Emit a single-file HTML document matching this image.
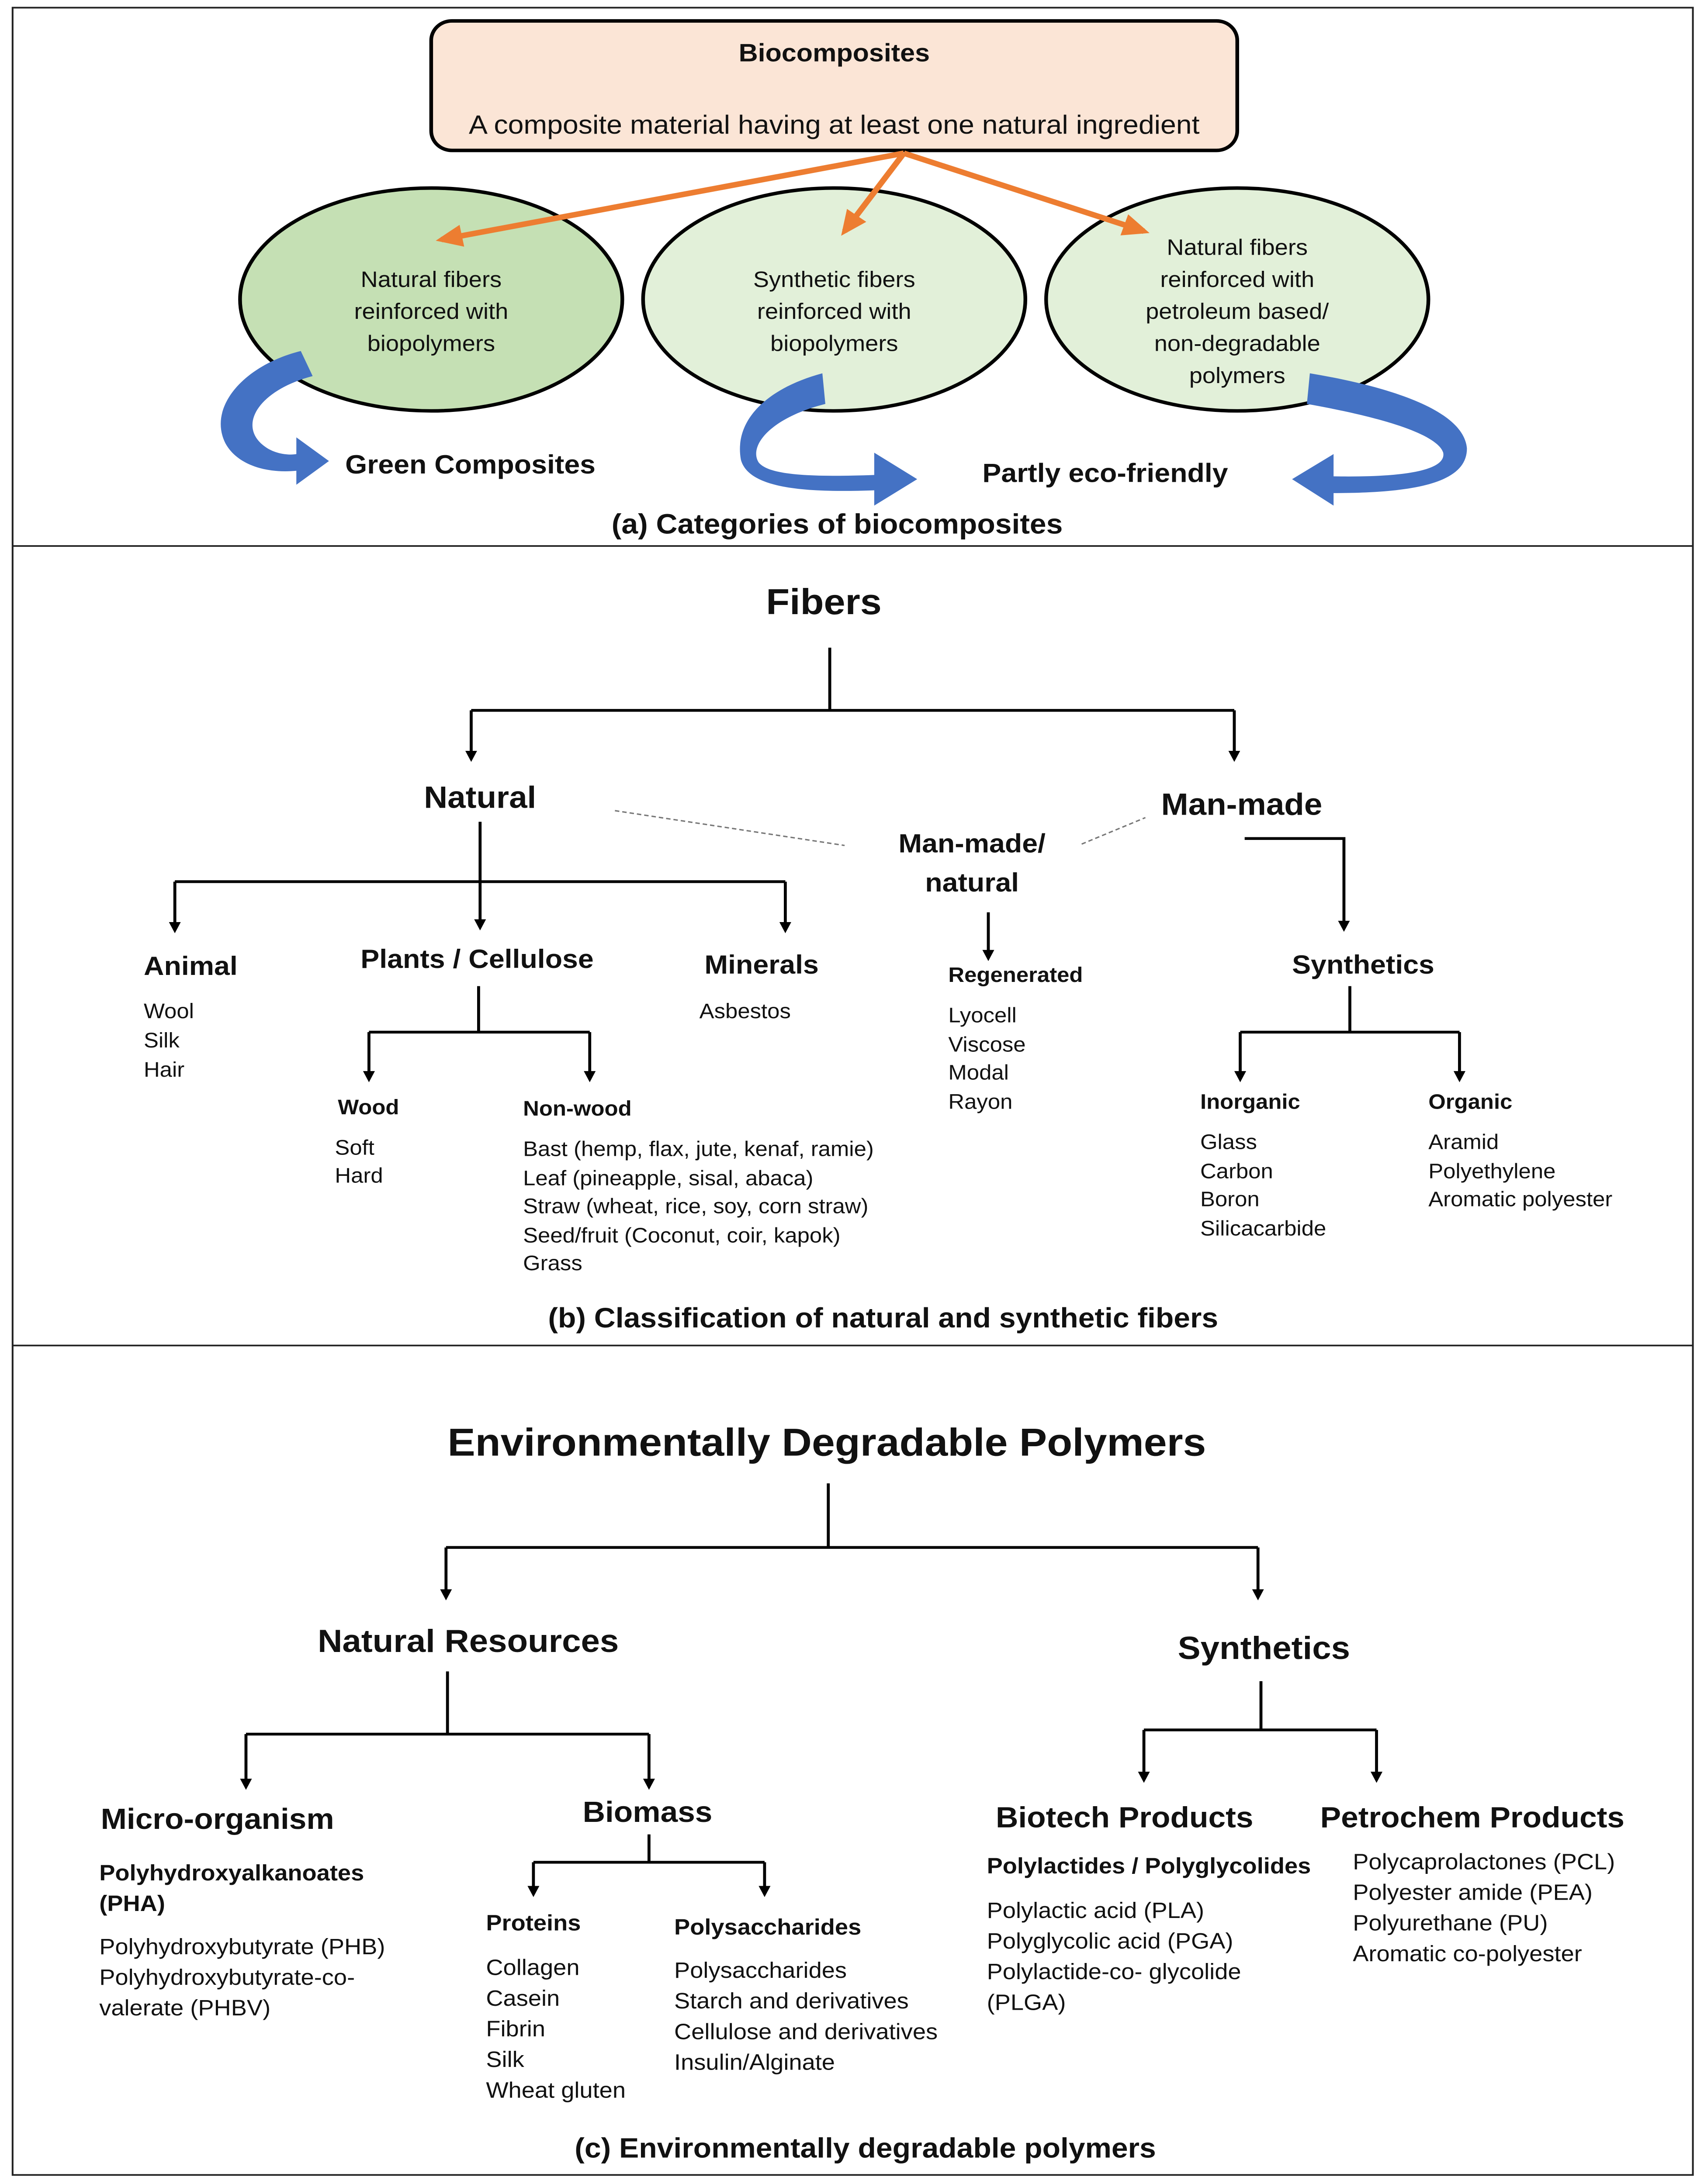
<!DOCTYPE html>
<html><head><meta charset="utf-8"><style>
html,body{margin:0;padding:0;background:#fff;width:100%;height:100%;overflow:hidden}
svg{display:block;width:100vw;height:100vh}
text{font-family:"Liberation Sans",sans-serif;fill:#111}
.b{font-weight:bold}
</style></head><body>
<svg viewBox="0 0 1150 1568" preserveAspectRatio="none" xmlns="http://www.w3.org/2000/svg">
<defs>
<marker id="ah" markerWidth="8" markerHeight="8" refX="6" refY="4" orient="auto" markerUnits="userSpaceOnUse"><path d="M0,0 L8,4 L0,8 Z" fill="#000"/></marker>
<marker id="oh" markerWidth="18" markerHeight="16" refX="14" refY="8" orient="auto" markerUnits="userSpaceOnUse"><path d="M0,0 L18,8 L0,16 Z" fill="#ed7d31"/></marker>
</defs>
<rect x="0" y="0" width="1150" height="1568" fill="#fff"/>
<rect x="8.5" y="5.5" width="1134" height="1556" fill="none" stroke="#222" stroke-width="1.2"/>
<line x1="8" y1="392" x2="1143" y2="392" stroke="#222" stroke-width="1.2"/>
<line x1="8" y1="966" x2="1143" y2="966" stroke="#222" stroke-width="1.2"/>

<rect x="291" y="15" width="544" height="93" rx="14" fill="#fbe5d6" stroke="#000" stroke-width="2.5"/>
<text x="563" y="44" font-size="18" class="b" text-anchor="middle">Biocomposites</text>
<text x="563" y="96" font-size="19" text-anchor="middle">A composite material having at least one natural ingredient</text>

<ellipse cx="291" cy="215" rx="129" ry="80" fill="#c5e0b4" stroke="#000" stroke-width="2.5"/>
<ellipse cx="563" cy="215" rx="129" ry="80" fill="#e2f0d9" stroke="#000" stroke-width="2.5"/>
<ellipse cx="835" cy="215" rx="129" ry="80" fill="#e2f0d9" stroke="#000" stroke-width="2.5"/>
<g font-size="16" text-anchor="middle">
<text x="291" y="206">Natural fibers</text><text x="291" y="229">reinforced with</text><text x="291" y="252">biopolymers</text>
<text x="563" y="206">Synthetic fibers</text><text x="563" y="229">reinforced with</text><text x="563" y="252">biopolymers</text>
<text x="835" y="183">Natural fibers</text><text x="835" y="206">reinforced with</text><text x="835" y="229">petroleum based/</text><text x="835" y="252">non-degradable</text><text x="835" y="275">polymers</text>
</g>
<g stroke="#ed7d31" stroke-width="4" fill="none">
<line x1="610" y1="110" x2="298" y2="172" marker-end="url(#oh)"/>
<line x1="610" y1="110" x2="570" y2="166" marker-end="url(#oh)"/>
<line x1="610" y1="110" x2="772" y2="166" marker-end="url(#oh)"/>
</g>
<g fill="#4472c4">
<path d="M203,252 L211,270 C175,280 160,305 178,320 C185,326 195,327 200,326 L200,314 L222,331 L200,348 L200,338 C180,340 160,334 152,318 C140,292 165,262 203,252 Z"/>
<path d="M555,268 L557,290 C520,300 505,320 512,332 C518,340 540,343 590,341 L590,325 L619,344 L590,363 L590,352 C540,354 505,350 500,330 C495,300 520,278 555,268 Z"/>
<path d="M884,268 L882,290 C935,300 970,312 974,325 C976,336 955,343 900,342 L900,326 L872,344 L900,363 L900,354 C960,354 990,345 990,322 C988,295 940,278 884,268 Z"/>
</g>
<text x="233" y="340" font-size="19" class="b">Green Composites</text>
<text x="663" y="346" font-size="19" class="b">Partly eco-friendly</text>
<text x="565" y="383" font-size="20" class="b" text-anchor="middle">(a) Categories of biocomposites</text>

<text x="556" y="441" font-size="26" class="b" text-anchor="middle">Fibers</text>
<g stroke="#000" stroke-width="2" fill="none">
<line x1="560" y1="465" x2="560" y2="510"/>
<line x1="318" y1="510" x2="833" y2="510"/>
<line x1="318" y1="510" x2="318" y2="545" marker-end="url(#ah)"/>
<line x1="833" y1="510" x2="833" y2="545" marker-end="url(#ah)"/>
<line x1="324" y1="590" x2="324" y2="666" marker-end="url(#ah)"/>
<line x1="118" y1="633" x2="530" y2="633"/>
<line x1="118" y1="633" x2="118" y2="668" marker-end="url(#ah)"/>
<line x1="530" y1="633" x2="530" y2="668" marker-end="url(#ah)"/>
<line x1="323" y1="708" x2="323" y2="741"/>
<line x1="249" y1="741" x2="398" y2="741"/>
<line x1="249" y1="741" x2="249" y2="775" marker-end="url(#ah)"/>
<line x1="398" y1="741" x2="398" y2="775" marker-end="url(#ah)"/>
<line x1="667" y1="655" x2="667" y2="688" marker-end="url(#ah)"/>
<polyline points="840,602 907,602 907,667" marker-end="url(#ah)"/>
<line x1="911" y1="708" x2="911" y2="741"/>
<line x1="837" y1="741" x2="985" y2="741"/>
<line x1="837" y1="741" x2="837" y2="775" marker-end="url(#ah)"/>
<line x1="985" y1="741" x2="985" y2="775" marker-end="url(#ah)"/>
</g>
<g stroke="#777" stroke-width="1" stroke-dasharray="3,2">
<line x1="415" y1="582" x2="570" y2="607"/><line x1="730" y1="606" x2="773" y2="587"/>
</g>
<text x="324" y="580" font-size="22" class="b" text-anchor="middle">Natural</text>
<text x="838" y="585" font-size="22" class="b" text-anchor="middle">Man-made</text>
<text x="656" y="612" font-size="19" class="b" text-anchor="middle">Man-made/</text>
<text x="656" y="640" font-size="19" class="b" text-anchor="middle">natural</text>
<text x="97" y="700" font-size="19" class="b">Animal</text>
<text x="322" y="695" font-size="19" class="b" text-anchor="middle">Plants / Cellulose</text>
<text x="514" y="699" font-size="19" class="b" text-anchor="middle">Minerals</text>
<text x="920" y="699" font-size="19" class="b" text-anchor="middle">Synthetics</text>
<g font-size="15">
<text x="97" y="731">Wool</text><text x="97" y="752">Silk</text><text x="97" y="773">Hair</text>
<text x="472" y="731">Asbestos</text>
<text x="228" y="800" class="b">Wood</text><text x="353" y="801" class="b">Non-wood</text>
<text x="226" y="829">Soft</text><text x="226" y="849">Hard</text>
<text x="353" y="830">Bast (hemp, flax, jute, kenaf, ramie)</text>
<text x="353" y="851">Leaf (pineapple, sisal, abaca)</text>
<text x="353" y="871">Straw (wheat, rice, soy, corn straw)</text>
<text x="353" y="892">Seed/fruit (Coconut, coir, kapok)</text>
<text x="353" y="912">Grass</text>
<text x="640" y="705" class="b">Regenerated</text>
<text x="640" y="734">Lyocell</text><text x="640" y="755">Viscose</text><text x="640" y="775">Modal</text><text x="640" y="796">Rayon</text>
<text x="810" y="796" class="b">Inorganic</text><text x="964" y="796" class="b">Organic</text>
<text x="810" y="825">Glass</text><text x="810" y="846">Carbon</text><text x="810" y="866">Boron</text><text x="810" y="887">Silicacarbide</text>
<text x="964" y="825">Aramid</text><text x="964" y="846">Polyethylene</text><text x="964" y="866">Aromatic polyester</text>
</g>
<text x="596" y="953" font-size="20" class="b" text-anchor="middle">(b) Classification of natural and synthetic fibers</text>

<text x="558" y="1045" font-size="28" class="b" text-anchor="middle">Environmentally Degradable Polymers</text>
<g stroke="#000" stroke-width="2" fill="none">
<line x1="559" y1="1065" x2="559" y2="1111"/>
<line x1="301" y1="1111" x2="849" y2="1111"/>
<line x1="301" y1="1111" x2="301" y2="1147" marker-end="url(#ah)"/>
<line x1="849" y1="1111" x2="849" y2="1147" marker-end="url(#ah)"/>
<line x1="302" y1="1200" x2="302" y2="1245"/>
<line x1="166" y1="1245" x2="438" y2="1245"/>
<line x1="166" y1="1245" x2="166" y2="1283" marker-end="url(#ah)"/>
<line x1="438" y1="1245" x2="438" y2="1283" marker-end="url(#ah)"/>
<line x1="438" y1="1317" x2="438" y2="1337"/>
<line x1="360" y1="1337" x2="516" y2="1337"/>
<line x1="360" y1="1337" x2="360" y2="1360" marker-end="url(#ah)"/>
<line x1="516" y1="1337" x2="516" y2="1360" marker-end="url(#ah)"/>
<line x1="851" y1="1207" x2="851" y2="1242"/>
<line x1="772" y1="1242" x2="929" y2="1242"/>
<line x1="772" y1="1242" x2="772" y2="1278" marker-end="url(#ah)"/>
<line x1="929" y1="1242" x2="929" y2="1278" marker-end="url(#ah)"/>
</g>
<text x="316" y="1186" font-size="23" class="b" text-anchor="middle">Natural Resources</text>
<text x="853" y="1191" font-size="23" class="b" text-anchor="middle">Synthetics</text>
<text x="68" y="1313" font-size="21" class="b">Micro-organism</text>
<text x="437" y="1308" font-size="21" class="b" text-anchor="middle">Biomass</text>
<text x="672" y="1312" font-size="21" class="b">Biotech Products</text>
<text x="891" y="1312" font-size="21" class="b">Petrochem Products</text>
<g font-size="16">
<text x="67" y="1350" class="b">Polyhydroxyalkanoates</text><text x="67" y="1372" class="b">(PHA)</text>
<text x="67" y="1403">Polyhydroxybutyrate (PHB)</text><text x="67" y="1425">Polyhydroxybutyrate-co-</text><text x="67" y="1447">valerate (PHBV)</text>
<text x="328" y="1386" class="b">Proteins</text><text x="455" y="1389" class="b">Polysaccharides</text>
<text x="328" y="1418">Collagen</text><text x="328" y="1440">Casein</text><text x="328" y="1462">Fibrin</text><text x="328" y="1484">Silk</text><text x="328" y="1506">Wheat gluten</text>
<text x="455" y="1420">Polysaccharides</text><text x="455" y="1442">Starch and derivatives</text><text x="455" y="1464">Cellulose and derivatives</text><text x="455" y="1486">Insulin/Alginate</text>
<text x="666" y="1345" class="b">Polylactides / Polyglycolides</text>
<text x="666" y="1377">Polylactic acid (PLA)</text><text x="666" y="1399">Polyglycolic acid (PGA)</text><text x="666" y="1421">Polylactide-co- glycolide</text><text x="666" y="1443">(PLGA)</text>
<text x="913" y="1342">Polycaprolactones (PCL)</text><text x="913" y="1364">Polyester amide (PEA)</text><text x="913" y="1386">Polyurethane (PU)</text><text x="913" y="1408">Aromatic co-polyester</text>
</g>
<text x="584" y="1549" font-size="20" class="b" text-anchor="middle">(c) Environmentally degradable polymers</text>
</svg>
</body></html>
